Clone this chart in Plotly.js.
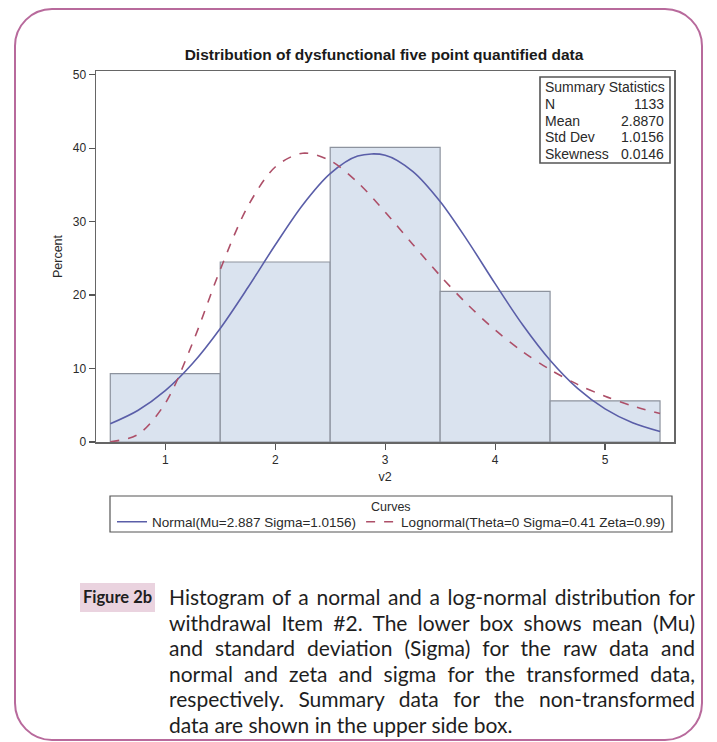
<!DOCTYPE html>
<html>
<head>
<meta charset="utf-8">
<script src="https://cdn.plot.ly/plotly-3.0.1.min.js"></script>
<style>
  html, body { margin:0; padding:0; background:#fff; }
  #frame { position:absolute; left:14px; top:8px; width:689px; height:733px; box-sizing:border-box;
           border:2px solid #b86a9c; border-radius:38px; }
  #chart { position:absolute; left:0; top:0; width:717px; height:742px; }
  #figlabel { position:absolute; left:80px; top:583px; width:75px; height:29px; background:#ead3df;
              font-family:Lato, 'Noto Sans', sans-serif; font-weight:bold; font-size:16.5px; color:#1e1e1e;
              line-height:29px; text-align:center; white-space:nowrap; }
  #caption { position:absolute; left:169px; top:584px; width:526px;
             font-family:Lato, 'Noto Sans', sans-serif; font-size:21px; color:#1e1e1e; line-height:25.5px; }
  #caption div { text-align:justify; text-align-last:justify; white-space:nowrap; }
  #caption div.last { text-align-last:left; }
</style>
</head>
<body>
<div id="frame"></div>
<div id="chart"></div>
<div id="figlabel">Figure 2b</div>
<div id="caption"></div>
<script>
// ---- data ----
const bins = [1, 2, 3, 4, 5];
const percent = [9.3, 24.5, 40.1, 20.5, 5.6];
const curveX = [0.5, 0.75, 1.0, 1.25, 1.5, 1.75, 2.0, 2.25, 2.5, 2.75, 3.0, 3.25, 3.5, 3.75, 4.0, 4.25, 4.5, 4.75, 5.0, 5.25, 5.5];
const normalY = [2.48, 4.29, 6.99, 10.72, 15.46, 20.99, 26.82, 32.27, 36.53, 38.92, 39.04, 36.85, 32.74, 27.38, 21.55, 15.96, 11.13, 7.30, 4.51, 2.62, 1.43];
const lognormalY = [0.04, 1.01, 5.27, 13.54, 23.47, 32.05, 37.43, 39.31, 38.30, 35.33, 31.31, 26.93, 22.64, 18.70, 15.25, 12.31, 9.85, 7.84, 6.22, 4.91, 3.87];
const curveNames = ['Normal(Mu=2.887 Sigma=1.0156)', 'Lognormal(Theta=0 Sigma=0.41 Zeta=0.99)'];
const legendTitle = 'Curves';
const statLabels = ['N', 'Mean', 'Std Dev', 'Skewness'];
const statValues = ['1133', '2.8870', '1.0156', '0.0146'];
const xTicks = [1, 2, 3, 4, 5];
const yTicks = [0, 10, 20, 30, 40, 50];
const chartTitle = 'Distribution of dysfunctional five point quantified data';
const captionLines = [
  'Histogram of a normal and a log-normal distribution for',
  'withdrawal Item #2. The lower box shows mean (Mu)',
  'and standard deviation (Sigma) for the raw data and',
  'normal and zeta and sigma for the transformed data,',
  'respectively. Summary data for the non-transformed',
  'data are shown in the upper side box.'
];

// ---- caption ----
const cap = document.getElementById('caption');
captionLines.forEach((t, i) => {
  const d = document.createElement('div');
  d.textContent = t;
  if (i === captionLines.length - 1) d.className = 'last';
  cap.appendChild(d);
});

// ---- layout geometry (pixels) ----
const L = 96, R = 674, T = 71, B = 442;
const px2x = p => (p - L) / (R - L);
const py2y = p => (B - p) / (B - T);
const FONT = 'Liberation Sans, Arial, sans-serif';
const TXT = '#2a2a2a';

const traces = [
  { type:'bar', x:bins, y:percent, width:1, showlegend:false, hoverinfo:'skip',
    marker:{ color:'#dae3ef', line:{ color:'#8d939e', width:1.2 } } },
  { type:'scatter', mode:'lines', x:curveX, y:normalY, name:curveNames[0],
    line:{ color:'#5a5ea8', width:1.6, shape:'spline', smoothing:0.9 } },
  { type:'scatter', mode:'lines', x:curveX, y:lognormalY, name:curveNames[1],
    line:{ color:'#ad4f68', width:1.6, dash:'dash', shape:'spline', smoothing:0.9 } }
];

const annotations = [
  { xref:'paper', yref:'paper', x:px2x(543), y:py2y(87), text:'Summary Statistics', showarrow:false,
    xanchor:'left', yanchor:'middle', font:{ family:FONT, size:14, color:TXT } },
  { xref:'paper', yref:'paper', x:px2x(391), y:py2y(507), text:legendTitle, showarrow:false,
    xanchor:'center', yanchor:'middle', font:{ family:FONT, size:12.5, color:TXT } }
];
statLabels.forEach((s, i) => {
  const yy = py2y(104 + i * 16.6);
  annotations.push({ xref:'paper', yref:'paper', x:px2x(543), y:yy, text:s, showarrow:false,
    xanchor:'left', yanchor:'middle', font:{ family:FONT, size:14, color:TXT } });
  annotations.push({ xref:'paper', yref:'paper', x:px2x(666), y:yy, text:statValues[i], showarrow:false,
    xanchor:'right', yanchor:'middle', font:{ family:FONT, size:14, color:TXT } });
});

const shapes = [
  { type:'rect', xref:'paper', yref:'paper', x0:px2x(540), x1:px2x(670), y0:py2y(163), y1:py2y(77),
    line:{ color:'#555', width:1.6 }, fillcolor:'rgba(0,0,0,0)' },
  { type:'rect', xref:'paper', yref:'paper', x0:px2x(110), x1:px2x(672), y0:py2y(532), y1:py2y(496),
    line:{ color:'#555', width:1.2 }, fillcolor:'rgba(0,0,0,0)' }
];

const layout = {
  width:717, height:742,
  margin:{ l:L, r:717 - R, t:T, b:742 - B, pad:0 },
  paper_bgcolor:'rgba(0,0,0,0)', plot_bgcolor:'#fff',
  title:{ text:'<b>' + chartTitle + '</b>', x:384 / 717, xanchor:'center',
          y:1 - 55 / 742, yanchor:'middle', font:{ family:FONT, size:15.5, color:'#1a1a1a' } },
  font:{ family:FONT, size:12, color:TXT },
  bargap:0,
  xaxis:{ range:[0.37, 5.627], tickvals:xTicks, ticktext:xTicks.map(String), ticks:'outside', ticklen:6,
          tickcolor:'#555', tickwidth:1.2, showline:true, mirror:true, linecolor:'#666', linewidth:1.5,
          showgrid:false, zeroline:false, tickfont:{ size:12, color:TXT },
          title:{ text:'v2', font:{ size:12.5, color:TXT }, standoff:6 } },
  yaxis:{ range:[0, 50.5], tickvals:yTicks, ticks:'outside', ticklen:6, tickcolor:'#555', tickwidth:1.2,
          showline:true, mirror:true, linecolor:'#666', linewidth:1.5, showgrid:false, zeroline:false,
          tickfont:{ size:12, color:TXT },
          title:{ text:'Percent', font:{ size:12.5, color:TXT }, standoff:7 } },
  legend:{ orientation:'h', x:px2x(391), xanchor:'center', y:py2y(522), yanchor:'middle',
           font:{ family:FONT, size:13.5, color:TXT }, bgcolor:'rgba(0,0,0,0)', borderwidth:0,
           tracegroupgap:0 },
  annotations:annotations,
  shapes:shapes
};

Plotly.newPlot('chart', traces, layout, { displayModeBar:false, staticPlot:true });
</script>
</body>
</html>
